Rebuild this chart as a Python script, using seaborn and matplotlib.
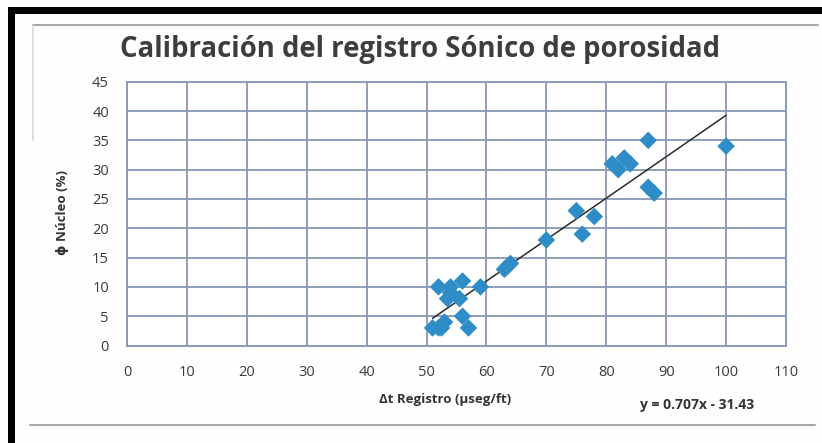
import matplotlib
matplotlib.use("Agg")
import matplotlib.pyplot as plt
from matplotlib.patches import Rectangle
from matplotlib.lines import Line2D
import numpy as np
import pandas as pd
import seaborn as sns

# Core calibration samples: sonic log transit time vs. core porosity
delta_t = [51, 52, 52.5, 53, 52, 54, 54, 53.5, 55.5, 56, 56, 57, 59,
           63, 63.5, 64, 70, 75, 76, 78, 81, 82, 83, 84, 87, 87, 88, 100]
porosity = [3, 3, 3, 4, 10, 10, 9, 8, 8, 11, 5, 3, 10,
            13, 13.5, 14, 18, 23, 19, 22, 31, 30, 32, 31, 35, 27, 26, 34]

# Linear trendline as reported on the chart
slope = 0.707
intercept = -31.43

x_ticks = list(range(0, 111, 10))
y_ticks = list(range(0, 46, 5))

title = "Calibración del registro Sónico de porosidad"
x_label = "Δt Registro (µseg/ft)"
y_label = "ϕ Núcleo (%)"
equation = f"y = {slope}x - {abs(intercept)}"

df = pd.DataFrame({"dt": delta_t, "phi": porosity})

sns.set_theme(style="white")
plt.rcParams["font.family"] = ["Open Sans", "DejaVu Sans"]

W, H = 822, 443
fig = plt.figure(figsize=(W / 100, H / 100), dpi=100)
fig.patch.set_facecolor("#fefefd")

ax = fig.add_axes([127 / W, 1 - 345.5 / H, (786 - 127) / W, (345.5 - 81.7) / H])
ax.set_facecolor("white")

grid_col = "#8796b8"
ax.set_xlim(0, 110)
ax.set_ylim(0, 45)
ax.set_xticks(x_ticks)
ax.set_yticks(y_ticks)
ax.grid(True, color=grid_col, linewidth=1.3)
for sp in ax.spines.values():
    sp.set_color(grid_col)
    sp.set_linewidth(1.3)
ax.tick_params(axis="both", length=0, labelsize=10.5, colors="#3a3a3a", pad=14)
ax.tick_params(axis="y", pad=13)

# Trendline over the span of the samples
xs = np.array([min(delta_t), max(delta_t)])
ax.plot(xs, slope * xs + intercept, color="#2b2b2b", linewidth=1.1, zorder=3)

sns.scatterplot(data=df, x="dt", y="phi", ax=ax, marker="D", s=80,
                color="#2e8dc6", edgecolor="none", zorder=4, legend=False)

ax.set_xlabel("")
ax.set_ylabel("")

fig.text(445 / W, 1 - 400 / H, x_label, ha="center", va="center",
         fontsize=9.5, fontweight="bold", color="#333333")
fig.text(697 / W, 1 - 405 / H, equation, ha="center", va="center",
         fontsize=10, fontweight="bold", color="#333333")
fig.text(62 / W, 1 - 213 / H, y_label, ha="center", va="center", rotation=90,
         fontsize=9.5, fontweight="bold", color="#333333")
fig.text(420 / W, 1 - 49 / H, title, ha="center", va="center",
         fontsize=19.8, fontweight="bold", color="#3d3d3d")

# Page frame: black border strips and thin grey rules
def px_rect(x0, y0, x1, y1, color):
    fig.add_artist(Rectangle((x0 / W, 1 - y1 / H), (x1 - x0) / W, (y1 - y0) / H,
                             transform=fig.transFigure, color=color, lw=0))

px_rect(8, 7, W, 14, "black")
px_rect(8, 7, 15, H, "black")
fig.add_artist(Line2D([33 / W, 818 / W], [1 - 25 / H, 1 - 25 / H],
                      transform=fig.transFigure, color="#a8a8a8", lw=1.5))
fig.add_artist(Line2D([30 / W, 815 / W], [1 - 425 / H, 1 - 425 / H],
                      transform=fig.transFigure, color="#a8a8a8", lw=1.5))
fig.add_artist(Line2D([33 / W, 33 / W], [1 - 25 / H, 1 - 140 / H],
                      transform=fig.transFigure, color="#d8d8d8", lw=1.2))

fig.savefig("out.png", dpi=100, facecolor=fig.get_facecolor())
